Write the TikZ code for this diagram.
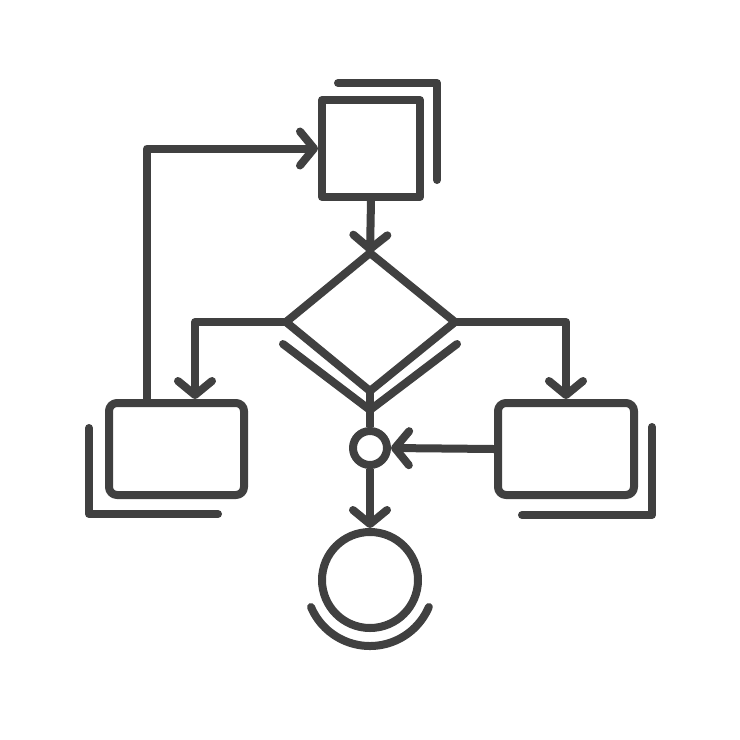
\documentclass[tikz,border=0pt]{standalone}
\usetikzlibrary{arrows.meta}
\definecolor{ink}{HTML}{404040}
\begin{document}
\begin{tikzpicture}[x=1pt,y=-1pt,
  every path/.style={line width=8pt, draw=ink, line cap=round, line join=round},
  box/.style={draw=ink, line width=8pt, inner sep=0pt, rectangle},
  circ/.style={draw=ink, line width=8pt, inner sep=0pt, circle},
  arr/.style={-{Straight Barb[round,length=14pt,width=34pt]}, line cap=butt}]
\useasboundingbox[fill=white, draw=none] (0,0) rectangle (740,740);
% nodes
\node[box, minimum width=98pt, minimum height=97pt] (sq) at (371,148.5) {};
\node[box, rounded corners=8pt, minimum width=135pt, minimum height=92pt] (lbox) at (176.5,449) {};
\node[box, rounded corners=8pt, minimum width=136pt, minimum height=92pt] (rbox) at (566,449) {};
\node[circ, minimum size=34pt] (sc) at (370,448) {};
\node[circ, minimum size=96pt] (bc) at (370,580) {};
% diamond
\coordinate (dt) at (370,253);
\coordinate (dl) at (286,322);
\coordinate (dr) at (455,322);
\coordinate (db) at (370,391);
\draw (dt) -- (dr) -- (db) -- (dl) -- cycle;
% shadows
\draw (338,83) -- (437,83) -- (437,180);
\draw (89,428) -- (89,514) -- (218,514);
\draw (652,427) -- (652,515) -- (522,515);
\draw (283,344) -- (370,410) -- (457,344);
\draw (311,607) arc[start angle=157, end angle=23, radius=64];
% connectors
\coordinate (lx) at (147,0);
\coordinate (lax) at (195,0);
\draw[arr] (lx |- lbox.north) |- (sq.west);
\draw[arr] (sq.south) -- (dt);
\draw[arr] (dl) -| (lax |- lbox.north);
\draw[arr] (dr) -| (rbox.north);
\draw[line cap=butt] (db) -- (sc.north);
\draw[arr] (rbox.west) -- (sc.east);
\draw[arr] (sc.south) -- (bc.north);
\end{tikzpicture}
\end{document}
